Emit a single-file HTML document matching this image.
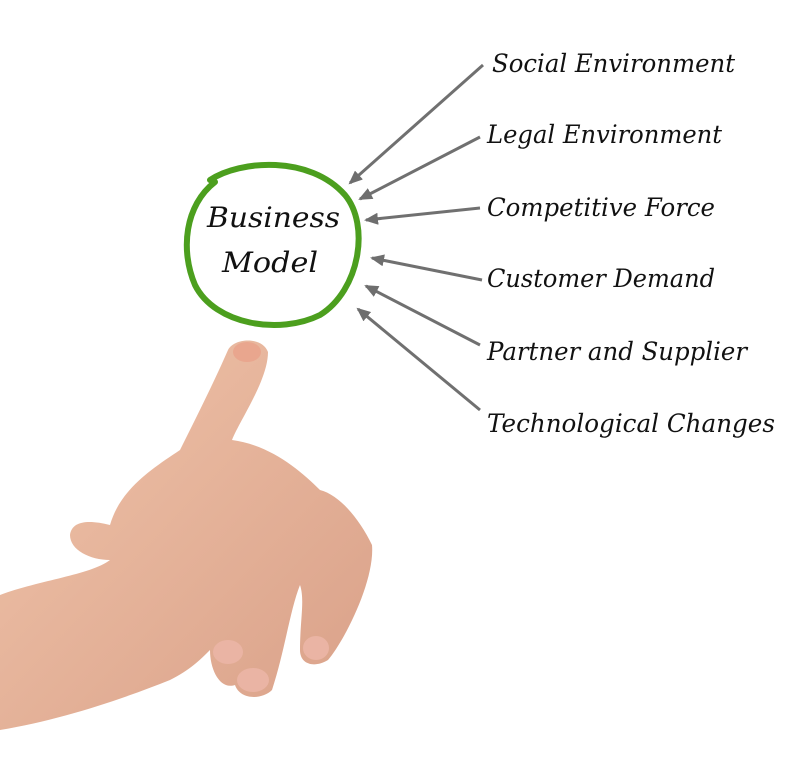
<!DOCTYPE html>
<html><head><meta charset="utf-8"><style>
html,body{margin:0;padding:0;background:#fff;}
svg{display:block}
text{font-family:"DejaVu Serif","Liberation Serif",serif;font-style:italic;fill:#111;}
</style></head><body>
<svg width="800" height="770" viewBox="0 0 800 770">
<defs>
<marker id="a" markerWidth="14" markerHeight="12" refX="12" refY="6" orient="auto" markerUnits="userSpaceOnUse">
<path d="M0,0 L14,6 L0,12 z" fill="#6e6e6e"/>
</marker>
<linearGradient id="sk" x1="0" y1="0" x2="1" y2="1">
<stop offset="0" stop-color="#f0c4aa"/><stop offset="1" stop-color="#d9a088"/>
</linearGradient>
</defs>
<path d="M210,180 C240,160 310,155 345,195 C370,225 360,290 320,315 C280,335 215,325 195,285 C180,250 185,205 215,182" fill="none" stroke="#4c9f1e" stroke-width="6" stroke-linecap="round"/>
<text x="207" y="227" font-size="28" textLength="133" lengthAdjust="spacingAndGlyphs">Business</text>
<text x="222" y="272" font-size="28" textLength="96" lengthAdjust="spacingAndGlyphs">Model</text>
<g stroke="#707070" stroke-width="3" marker-end="url(#a)">
<line x1="483" y1="65" x2="350" y2="183"/>
<line x1="480" y1="137" x2="360" y2="199"/>
<line x1="480" y1="208" x2="366" y2="220"/>
<line x1="482" y1="280" x2="372" y2="258"/>
<line x1="480" y1="345" x2="366" y2="286"/>
<line x1="480" y1="410" x2="358" y2="309"/>
</g>
<g font-size="25">
<text x="492" y="72" textLength="243" lengthAdjust="spacingAndGlyphs">Social Environment</text>
<text x="487" y="143" textLength="235" lengthAdjust="spacingAndGlyphs">Legal Environment</text>
<text x="487" y="216" textLength="228" lengthAdjust="spacingAndGlyphs">Competitive Force</text>
<text x="487" y="287" textLength="228" lengthAdjust="spacingAndGlyphs">Customer Demand</text>
<text x="487" y="360" textLength="260" lengthAdjust="spacingAndGlyphs">Partner and Supplier</text>
<text x="487" y="432" textLength="288" lengthAdjust="spacingAndGlyphs">Technological Changes</text>
</g>
<path d="M0,595 C40,580 90,575 110,560 C90,560 70,550 70,535 C72,520 90,520 110,525 C120,490 150,470 180,450 C195,420 215,380 228,350 C234,338 262,336 268,352 C268,380 240,420 232,440 C270,445 300,470 320,490 C340,495 360,520 372,545 C375,580 345,640 328,660 C315,668 300,665 300,650 C300,620 305,600 300,585 C290,610 285,650 272,690 C262,700 240,700 235,685 C220,690 210,670 210,650 C200,660 190,670 170,680 C120,700 60,720 0,730 Z" fill="url(#sk)"/>
<ellipse cx="247" cy="352" rx="14" ry="10" fill="#e9a68e"/>
<ellipse cx="253" cy="680" rx="16" ry="12" fill="#eab4a4"/>
<ellipse cx="228" cy="652" rx="15" ry="12" fill="#eab4a4"/>
<ellipse cx="316" cy="648" rx="13" ry="12" fill="#eab4a4"/>
</svg>
</body></html>
